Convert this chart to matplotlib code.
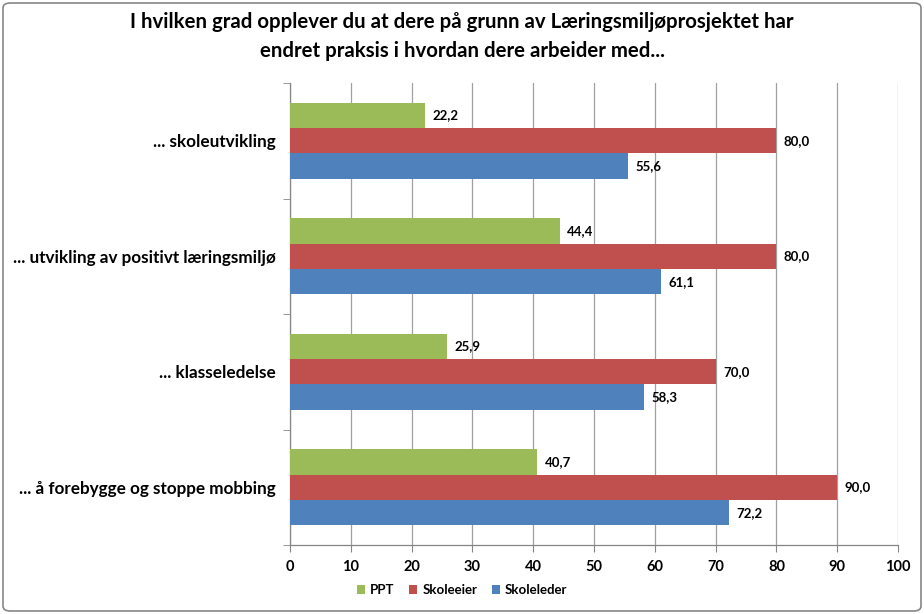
import matplotlib
matplotlib.use("Agg")
import matplotlib.pyplot as plt
from matplotlib.patches import FancyBboxPatch
import numpy as np

plt.rcParams['font.family'] = ['Lato', 'DejaVu Sans']

categories = ["... skoleutvikling",
              "... utvikling av positivt læringsmiljø",
              "... klasseledelse",
              "... å forebygge og stoppe mobbing"]
series_names = ["PPT", "Skoleeier", "Skoleleder"]
ppt = [22.2, 44.4, 25.9, 40.7]
skoleeier = [80.0, 80.0, 70.0, 90.0]
skoleleder = [55.6, 61.1, 58.3, 72.2]
colors = ["#9BBB59", "#C0504D", "#4F81BD"]
xticks = [0, 10, 20, 30, 40, 50, 60, 70, 80, 90, 100]

fig = plt.figure(figsize=(9.24, 6.14), dpi=100)
ax = fig.add_axes([290/924, 1-545/614, (898-290)/924, (545-83)/614])

n = len(categories)
y = np.arange(n)
h = 0.22
offsets = [-h, 0, h]
all_series = [ppt, skoleeier, skoleleder]
for vals, off, col, name in zip(all_series, offsets, colors, series_names):
    ax.barh(y + off, vals, height=h, color=col, label=name, zorder=3)
    for yy, v in zip(y + off, vals):
        ax.text(v + 1.2, yy, f"{v:.1f}".replace('.', ','), va='center', ha='left',
                fontsize=9.5, fontweight='bold', color='black', zorder=4)

ax.set_xlim(0, 100)
ax.set_ylim(n - 0.5, -0.5)
ax.set_xticks(xticks)
ax.set_xticklabels([str(t) for t in xticks], fontsize=10.5, fontweight='bold')
ax.set_yticks(y)
ax.set_yticklabels(categories, fontsize=12.3, fontweight='bold')
ax.set_yticks(np.arange(n + 1) - 0.5, minor=True)
ax.tick_params(axis='y', which='major', length=0, pad=10)
ax.tick_params(axis='y', which='minor', length=5, color='#868686', direction='out')
ax.tick_params(axis='x', which='major', length=5, color='#868686', direction='out', pad=6)
ax.grid(axis='x', color='#A0A0A0', linewidth=0.9, zorder=0)
for s in ['top', 'right']:
    ax.spines[s].set_visible(False)
for s in ['left', 'bottom']:
    ax.spines[s].set_color('#868686')
    ax.spines[s].set_linewidth(0.9)

fig.text(0.5, 1-22/614, "I hvilken grad opplever du at dere på grunn av Læringsmiljøprosjektet har",
         ha='center', va='center', fontsize=14.7, fontweight='bold')
fig.text(0.5, 1-51/614, "endret praksis i hvordan dere arbeider med...",
         ha='center', va='center', fontsize=14.7, fontweight='bold')

fig.legend(loc='center', bbox_to_anchor=(0.5, 1-590/614), ncol=3, frameon=False,
           prop={'weight': 'bold', 'size': 9.5}, handlelength=0.6, handleheight=0.6,
           handletextpad=0.4, columnspacing=1.1)

border = FancyBboxPatch((3/924, 3/614), 1-6/924, 1-6/614, boxstyle="round,pad=0,rounding_size=0.008",
                        transform=fig.transFigure, fill=False, edgecolor='#868686', linewidth=1.2)
fig.patches.append(border)

fig.savefig("out.png", dpi=100)
